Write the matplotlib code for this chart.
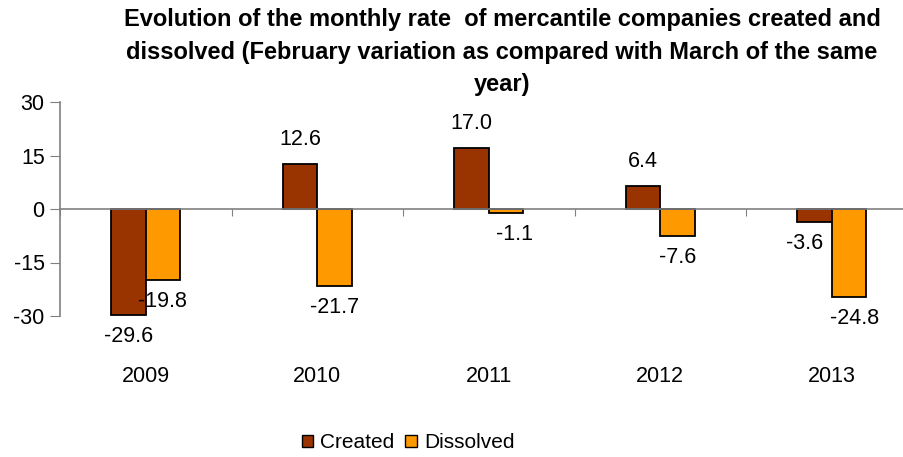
import matplotlib
matplotlib.use("Agg")
import matplotlib.pyplot as plt
import matplotlib.transforms as mtransforms
from matplotlib.patches import Patch
import numpy as np

years = ["2009", "2010", "2011", "2012", "2013"]
created = [-29.6, 12.6, 17.0, 6.4, -3.6]
dissolved = [-19.8, -21.7, -1.1, -7.6, -24.8]
series_names = ["Created", "Dissolved"]
colors = ["#993300", "#FF9900"]
title = ("Evolution of the monthly rate  of mercantile companies created and\n"
         "dissolved (February variation as compared with March of the same\n"
         "year)")

plt.rcParams['font.family'] = ['Liberation Sans', 'DejaVu Sans']
FS = 15.5

W, H = 904, 457
fig = plt.figure(figsize=(W / 100, H / 100), dpi=100)
left_px, right_px, top_px, bot_px = 60, 917.5, 102, 316
ax = fig.add_axes([left_px / W, 1 - bot_px / H, (right_px - left_px) / W, (bot_px - top_px) / H])

x = np.arange(len(years))
w = 0.2
ax.bar(x - w / 2, created, w, color=colors[0], edgecolor="black", linewidth=1.3, zorder=3)
ax.bar(x + w / 2, dissolved, w, color=colors[1], edgecolor="black", linewidth=1.3, zorder=3)

ax.set_xlim(-0.5, len(years) - 0.5)
ax.set_ylim(-30, 30)
ax.set_yticks([-30, -15, 0, 15, 30])
ax.set_yticklabels(["-30", "-15", "0", "15", "30"], fontsize=FS)
ax.tick_params(axis='y', direction='out', length=7, color="#808080", pad=4)

for s in ["top", "right"]:
    ax.spines[s].set_visible(False)
ax.spines["left"].set_color("#808080")
ax.spines["left"].set_linewidth(1.2)
ax.spines["bottom"].set_position(("data", 0))
ax.spines["bottom"].set_color("#808080")
ax.spines["bottom"].set_linewidth(1.2)
ax.spines["bottom"].set_zorder(4)

# boundary ticks on the zero line
ax.set_xticks(np.arange(-0.5, len(years) + 0.5, 1.0))
ax.set_xticklabels([])
ax.tick_params(axis='x', direction='out', length=5, color="#808080")

# category labels at the bottom
trans = mtransforms.blended_transform_factory(ax.transData, ax.transAxes)
for xi, lab in zip(x, years):
    ax.annotate(lab, xy=(xi, 0), xycoords=trans, xytext=(0, -61 * 0.72),
                textcoords="offset points", ha="center", va="center", fontsize=FS)

# value labels
def put_labels(xs, vals, shift, dx_over=None):
    for xi, v in zip(xs, vals):
        off = 18 if v >= 0 else -15.5
        dx = dx_over.get(v, 0) if dx_over else 0
        ax.annotate(f"{v:.1f}", xy=(xi + shift, v), xytext=(dx, off),
                    textcoords="offset points", ha="center", va="center", fontsize=FS)

put_labels(x, created, -w / 2, dx_over={-3.6: -7})
put_labels(x, dissolved, w / 2, dx_over={-1.1: 6, -24.8: 4})

fig.text(502 / W, 1 - 8 / H, title, ha="center", va="top", fontsize=17,
         fontweight="bold", linespacing=1.53)

handles = [Patch(facecolor=c, edgecolor="black", linewidth=1.0) for c in colors]
fig.legend(handles, series_names, loc="center", bbox_to_anchor=(408 / W, 1 - 443 / H),
           ncol=2, frameon=False, fontsize=15, handlelength=0.55, handleheight=0.55,
           handletextpad=0.35, columnspacing=0.5)

fig.savefig("out.png", dpi=100)
